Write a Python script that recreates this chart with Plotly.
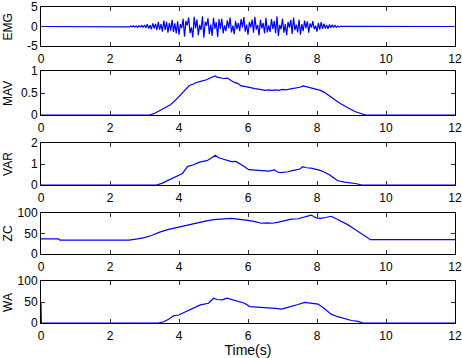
import numpy as np
import plotly.graph_objects as go
from plotly.subplots import make_subplots

# raw EMG, sampled every 40 ms starting at 2.52 s (zero outside)
EMG_START = 2.52
EMG_DT = 0.04
EMG_VALUES = [
    0.05, -0.1, 0.15, -0.08, 0.2, -0.15, 0.1, -0.22, 0.18, -0.12, 0.25, -0.2,
    0.4, -0.3, 0.6, -0.5, 0.35, -0.7, 0.8, -0.45, 0.65, -0.9,
    1.1, -0.8, 0.6, -1.3, 1.5, -0.9, 1.2, -1.6, 0.9, -1.1, 1.7, -1.4, 0.8, -1.8, 1.3,
    -2.1, 0.6, -0.4, 2.0, -2.6, 1.4, 0.3, 2.3, -1.7, -0.2, -2.8, 2.5, -0.5, 1.8, -2.2,
    0.4, -0.9, 2.6, -2.9, 1.2, 0.2, 2.1, -1.9, 0.5, -2.4, 2.2, -0.6, 1.1, -2.7, 1.9,
    -0.6, 2.0, -1.8, 0.3, -1.2, 1.6, -0.4, 2.3, -1.5, 0.2, -2.0, 1.4, -0.7, 0.9, -1.2,
    1.9, -0.3, 2.4, -1.3, 0.5, -2.1, 1.2, -0.2, 1.8, -1.6, 2.5, -0.8, 0.4, -2.3, 1.7,
    -0.5, 0.9, -1.8, 2.2, -1.5, 0.3, -1.4, 1.9, -0.6, 1.4, -1.7, 2.6, -2.4, 0.4, -0.7,
    2.0, -1.6, 0.6, -2.2, 1.2, -0.3, 1.7, -1.9, 2.3, -0.9, 0.5, -1.5, 1.8, -2.1, 0.6,
    -1.2, 1.5, -0.4, 1.3, -1.6, 0.8, -0.3, 1.4, -0.7, 0.2, -1.3, 0.9, -0.8, 1.1, -0.6,
    0.7, -0.5, 0.4, -0.6, 0.5, -0.3, 0.45, -0.25, 0.3, -0.2, 0.15, -0.1, 0.05,
]

MAV_T = [0, 3.15, 3.3, 3.45, 3.6, 3.75, 3.9, 4.0, 4.1, 4.2, 4.3, 4.4, 4.5, 4.6, 4.7, 4.8,
         4.9, 5.0, 5.05, 5.1, 5.2, 5.3, 5.4, 5.5, 5.6, 5.7, 5.8, 5.9, 6.0, 6.1, 6.2, 6.3,
         6.4, 6.5, 6.6, 6.7, 6.8, 6.9, 7.0, 7.1, 7.2, 7.3, 7.4, 7.5, 7.6, 7.7, 7.8, 7.9,
         8.0, 8.1, 8.2, 8.3, 8.4, 8.5, 8.6, 8.7, 8.8, 8.9, 9.0, 9.1, 9.2, 9.3, 9.4, 12]
MAV = [0, 0, 0.04, 0.1, 0.16, 0.23, 0.34, 0.42, 0.5, 0.6, 0.67, 0.7, 0.74, 0.76, 0.78, 0.8,
       0.84, 0.87, 0.89, 0.86, 0.85, 0.83, 0.84, 0.78, 0.74, 0.72, 0.66, 0.65, 0.63, 0.62, 0.6, 0.59,
       0.57, 0.56, 0.57, 0.56, 0.57, 0.56, 0.58, 0.57, 0.59, 0.6, 0.62, 0.63, 0.66, 0.64, 0.63, 0.61,
       0.59, 0.56, 0.52, 0.46, 0.41, 0.36, 0.3, 0.25, 0.2, 0.16, 0.12, 0.08, 0.05, 0.02, 0, 0]

VAR_T = [0, 3.35, 3.5, 3.65, 3.8, 3.99, 4.1, 4.25, 4.4, 4.62, 4.81, 4.95, 5.05, 5.15, 5.25,
         5.39, 5.52, 5.65, 5.78, 5.9, 6.02, 6.2, 6.48, 6.6, 6.77, 6.85, 6.96, 7.15, 7.35, 7.5,
         7.59, 7.7, 7.83, 7.95, 8.07, 8.2, 8.37, 8.5, 8.6, 8.8, 9.0, 9.15, 9.3, 12]
VAR = [0, 0, 0.08, 0.2, 0.3, 0.46, 0.55, 0.89, 0.95, 1.1, 1.16, 1.3, 1.42, 1.3, 1.25,
       1.2, 1.11, 1.12, 1.0, 0.87, 0.73, 0.7, 0.68, 0.66, 0.72, 0.62, 0.59, 0.63, 0.71, 0.76,
       0.87, 0.82, 0.8, 0.76, 0.71, 0.62, 0.48, 0.32, 0.2, 0.14, 0.11, 0.06, 0, 0]

ZC_T = [0, 0.5, 0.55, 2.55, 2.8, 3.0, 3.2, 3.46, 3.7, 4.0, 4.15, 4.3, 4.45, 4.6, 4.8, 5.0,
        5.2, 5.35, 5.52, 5.7, 5.85, 6.0, 6.2, 6.39, 6.55, 6.7, 6.85, 7.0, 7.26, 7.45, 7.6,
        7.83, 7.98, 8.1, 8.25, 8.41, 8.6, 8.75, 8.9, 9.05, 9.2, 9.35, 9.5, 9.55, 12]
ZC = [37, 37, 34, 34, 37, 40, 45, 54, 60, 66, 69, 72, 75, 78, 81, 84,
      85, 86, 87, 85, 84, 82, 79, 75, 76, 75, 77, 80, 85, 86, 89,
      95, 88, 87, 89, 92, 84, 78, 71, 63, 54, 45, 37, 35, 35]

WA_T = [0, 0.01, 3.4, 3.55, 3.7, 3.84, 3.99, 4.15, 4.33, 4.5, 4.62, 4.86, 5.0, 5.1, 5.25,
        5.39, 5.52, 5.7, 5.9, 6.05, 6.3, 6.58, 6.8, 6.97, 7.1, 7.26, 7.45, 7.64, 7.8, 8.03,
        8.2, 8.41, 8.6, 8.8, 9.0, 9.19, 9.33, 12]
WA = [50, 0, 0, 3, 9, 17, 19, 25, 33, 38, 43, 47, 59, 56, 55,
      59, 56, 52, 47, 39, 37, 36, 35, 33, 36, 39, 44, 49, 47, 45,
      35, 21, 15, 10, 6, 4, 0, 0]

emg_t = [0] + [EMG_START + i * EMG_DT for i in range(len(EMG_VALUES))] + [12]
emg = [0] + EMG_VALUES + [0]

panels = [
    ("EMG", emg_t, emg, [-5, 5], [-5, 0, 5], ["-5", "0", "5"]),
    ("MAV", MAV_T, MAV, [0, 1], [0, 0.5, 1], ["0", "0.5", "1"]),
    ("VAR", VAR_T, VAR, [0, 2], [0, 1, 2], ["0", "1", "2"]),
    ("ZC", ZC_T, ZC, [0, 100], [0, 50, 100], ["0", "50", "100"]),
    ("WA", WA_T, WA, [0, 100], [0, 50, 100], ["0", "50", "100"]),
]

# panel pixel extents (top, bottom) -> domains
H_TOP, H_BOT = 7, 323
pix = [(7, 46), (71, 115), (143, 185), (213, 254), (281, 323)]
ph = H_BOT - H_TOP

fig = make_subplots(rows=5, cols=1)
for i, (name, t, v, rng, tv, tt) in enumerate(panels):
    fig.add_trace(go.Scatter(x=t, y=v, mode="lines", line=dict(color="#0000FF", width=1.2),
                             showlegend=False, hoverinfo="skip"), row=i + 1, col=1)
    top, bot = pix[i]
    dom = [(H_BOT - bot) / ph, (H_BOT - top) / ph]
    ax = dict(showline=True, linecolor="black", linewidth=1, mirror="ticks",
              ticks="inside", ticklen=4, tickcolor="#333", showgrid=False, zeroline=False,
              automargin=False, ticklabeloverflow="allow")
    fig.update_xaxes(range=[0, 12], tickvals=[0, 2, 4, 6, 8, 10, 12], row=i + 1, col=1,
                     ticklabelstandoff=2, **ax)
    fig.update_yaxes(range=rng, tickvals=tv, ticktext=tt, domain=dom, row=i + 1, col=1,
                     ticklabelstandoff=0, **ax)
    fig.add_annotation(text=name, textangle=-90, xref="paper", yref="paper",
                       x=-0.08, y=(dom[0] + dom[1]) / 2, xanchor="center", yanchor="middle",
                       showarrow=False, font=dict(size=12, color="black"))

fig.update_xaxes(title=dict(text="Time(s)", standoff=2), row=5, col=1)

fig.update_layout(
    width=462, height=358,
    margin=dict(l=41, r=7, t=H_TOP, b=358 - H_BOT),
    paper_bgcolor="white", plot_bgcolor="white",
    font=dict(family="Liberation Sans, Arial, sans-serif", size=12, color="black"),
)

# drop the default page margin so the figure sits at the window's corner
fig.write_html("out.html", config={"displayModeBar": False},
               post_script="document.body.style.margin='0px';")
